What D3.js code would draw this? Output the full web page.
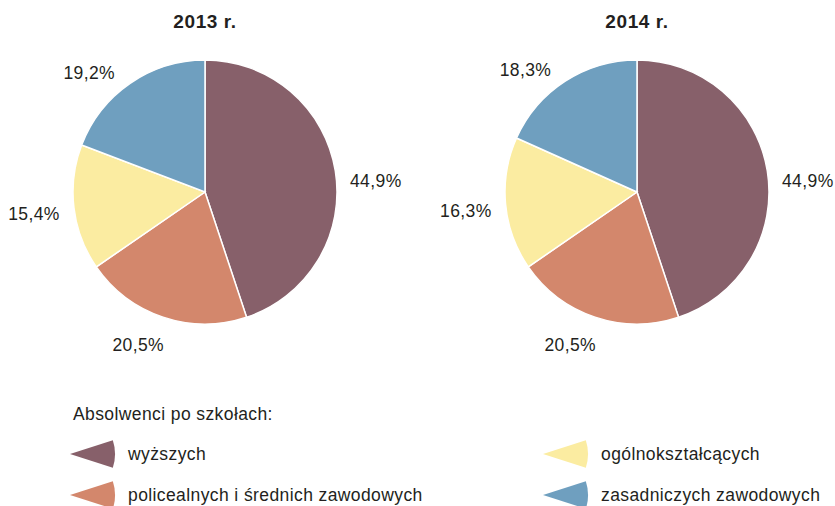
<!DOCTYPE html>
<html>
<head>
<meta charset="utf-8">
<script src="https://cdn.jsdelivr.net/npm/d3@7"></script>
<style>
  body { margin: 0; background: #fff; }
  text { font-family: "Liberation Sans", Arial, sans-serif; fill: #231f20; }
</style>
</head>
<body>
<svg id="svg-absolwenci"></svg>
<script>
var width = 835,
    height = 506,
    radius = 132;

// dane
var categories = ['wyższych', 'policealnych i średnich zawodowych', 'ogólnokształcących', 'zasadniczych zawodowych'];
var years = ['2013 r.', '2014 r.'];
var values2013 = [44.9, 20.5, 15.4, 19.2];
var values2014 = [44.9, 20.5, 16.3, 18.3];
var colors = ['#87606a', '#d3876c', '#fbeca1', '#6f9fbf'];
var legendTitle = 'Absolwenci po szkołach:';

var svg = d3.select('#svg-absolwenci')
    .attr('width', width)
    .attr('height', height);

var color = d3.scaleOrdinal().domain(categories).range(colors);

var pie = d3.pie().sort(null).value(function(d) { return d.value; });
var arc = d3.arc().innerRadius(0).outerRadius(radius);

var xPos = d3.scalePoint().domain(years).range([205, 637]);

drawPie(years[0], values2013);
drawPie(years[1], values2014);
drawLegend();

function fmt(v) {
  return d3.format('.1f')(v).replace('.', ',') + '%';
}

// pozycja podpisu: na zewnatrz wycinka, lekko odsuniety w strone poziomu
function labelPos(d) {
  var a = (d.startAngle + d.endAngle) / 2;
  a = a + 0.16 * Math.sin(2 * a);
  var s = Math.sin(a), c = Math.cos(a);
  var w = 52, h = 18;
  var dist = radius + 13 + Math.abs(s) * w / 2 + Math.abs(c) * h / 2;
  return [s * dist, -c * dist + 4 + 6 * s * s - 2];
}

function drawPie(year, vals) {
  var data = categories.map(function(c, i) { return {cat: c, value: vals[i]}; });
  var cx = xPos(year), cy = 192;
  var g = svg.append('g').attr('transform', 'translate(' + cx + ',' + cy + ')');

  g.selectAll('path')
    .data(pie(data))
    .enter().append('path')
    .attr('d', arc)
    .attr('fill', function(d) { return color(d.data.cat); })
    .attr('stroke', '#fff')
    .attr('stroke-width', 1.5);

  // podpisy wartosci
  g.selectAll('.lbl')
    .data(pie(data))
    .enter().append('text')
    .attr('class', 'lbl')
    .attr('text-anchor', 'middle')
    .attr('font-size', 17.5)
    .attr('letter-spacing', 0.4)
    .attr('x', function(d) { return labelPos(d)[0]; })
    .attr('y', function(d) { return labelPos(d)[1] + 6; })
    .text(function(d) { return fmt(d.value); });

  svg.append('text')
    .attr('x', cx)
    .attr('y', 28)
    .attr('text-anchor', 'middle')
    .attr('font-size', 19)
    .attr('letter-spacing', 0.6)
    .attr('font-weight', 'bold')
    .text(year);
}

function drawLegend() {
  svg.append('text')
    .attr('x', 73)
    .attr('y', 420)
    .attr('font-size', 17.5)
    .attr('letter-spacing', 0.4)
    .text(legendTitle);

  var icon = d3.arc().innerRadius(0).outerRadius(45)
    .startAngle(Math.PI / 2 - 0.31)
    .endAngle(Math.PI / 2 + 0.31);

  var item = svg.selectAll('.legend')
    .data(categories)
    .enter().append('g')
    .attr('class', 'legend')
    .attr('transform', function(d, i) {
      var col = i < 2 ? 0 : 1, row = i % 2;
      return 'translate(' + (col ? 543 : 70) + ',' + (454 + row * 41) + ')';
    });

  item.append('path')
    .attr('d', icon)
    .attr('fill', function(d) { return color(d); });

  item.append('text')
    .attr('x', 58)
    .attr('y', 6)
    .attr('font-size', 17.5)
    .attr('letter-spacing', 0.4)
    .text(function(d) { return d; });
}
</script>
</body>
</html>
